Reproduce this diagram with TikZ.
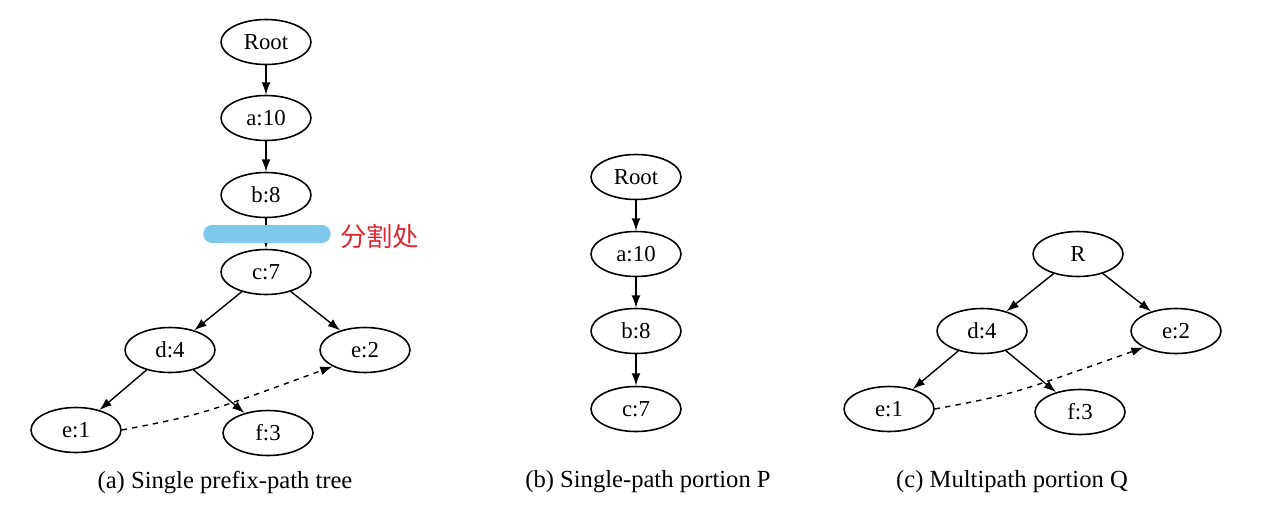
\documentclass[tikz,border=0pt]{standalone}
\usepackage{fontspec}
\setmainfont{Liberation Serif}
\newfontfamily\cjk{Noto Sans CJK SC}
\usetikzlibrary{arrows.meta,shapes.geometric}
\begin{document}
\begin{tikzpicture}[x=0.02cm,y=-0.02cm,
  nd/.style={draw,ellipse,line width=0.9pt,minimum width=1.8cm,minimum height=0.9cm,inner sep=0pt,font=\fontsize{13}{15}\selectfont},
  ar/.style={-{Latex[length=7pt,width=5pt]},line width=0.8pt},
  captxt/.style={font=\fontsize{14}{16}\selectfont}]
\useasboundingbox (0,0) rectangle (1262,508);
% (a)
\node[nd] (aR) at (266,42) {Root};
\node[nd] (aa) at (266,118) {a:10};
\node[nd] (ab) at (266,195) {b:8};
\node[nd] (ac) at (266,272) {c:7};
\node[nd] (ad) at (170,350) {d:4};
\node[nd] (ae2) at (365,350) {e:2};
\node[nd] (ae1) at (76,430) {e:1};
\node[nd] (af) at (268,433) {f:3};
\draw[ar] (aR)--(aa); \draw[ar] (aa)--(ab); \draw[ar] (ab)--(ac);
\draw[ar] (ac)--(ad); \draw[ar] (ac)--(ae2);
\draw[ar] (ad)--(ae1); \draw[ar] (ad)--(af);
\draw[ar,dashed] (ae1.east) .. controls (200,415) .. (ae2.south west);
\draw[line width=10pt,color={rgb,255:red,125;green,200;blue,235},line cap=round] (212,234)--(322,234);
\node[font=\cjk\fontsize{15}{18}\selectfont,text={rgb,255:red,220;green,40;blue,50},anchor=west] (lbl) at (334,236) {分割处};
\node[captxt] (capa) at (225,482) {(a) Single prefix-path tree};
% (b)
\node[nd] (bR) at (636,177) {Root};
\node[nd] (ba) at (636,254) {a:10};
\node[nd] (bb) at (636,331) {b:8};
\node[nd] (bc) at (636,409) {c:7};
\draw[ar] (bR)--(ba); \draw[ar] (ba)--(bb); \draw[ar] (bb)--(bc);
\node[captxt] (capb) at (648,482) {(b) Single-path portion P};
% (c)
\node[nd] (cR) at (1078,254) {R};
\node[nd] (cd) at (982,331) {d:4};
\node[nd] (ce2) at (1176,331) {e:2};
\node[nd] (ce1) at (889,409) {e:1};
\node[nd] (cf) at (1080,412) {f:3};
\draw[ar] (cR)--(cd); \draw[ar] (cR)--(ce2);
\draw[ar] (cd)--(ce1); \draw[ar] (cd)--(cf);
\draw[ar,dashed] (ce1.east) .. controls (1010,395) .. (ce2.south west);
\node[captxt] (capc) at (1012,482) {(c) Multipath portion Q};
\end{tikzpicture}
\end{document}
